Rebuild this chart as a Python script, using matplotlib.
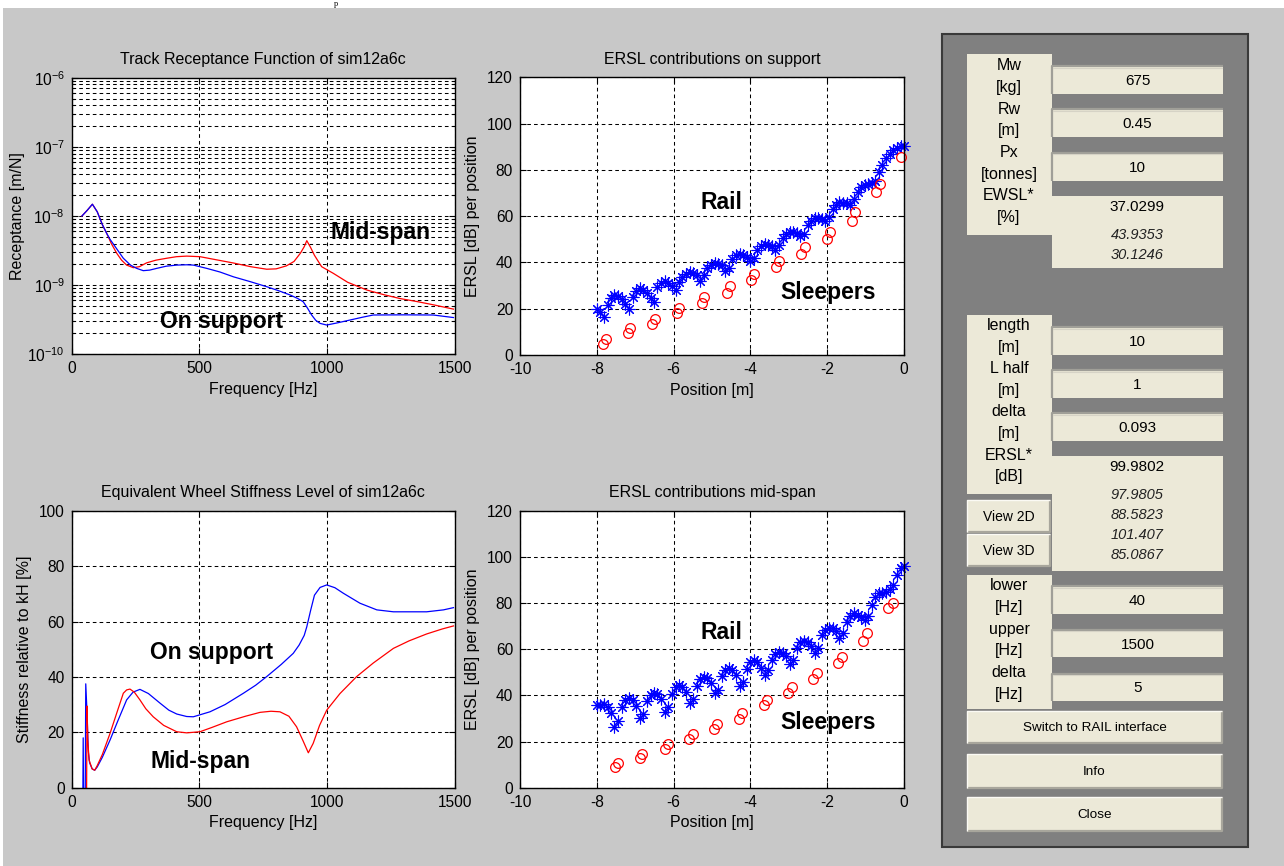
import numpy as np
import matplotlib
matplotlib.use("Agg")
import matplotlib.pyplot as plt
from matplotlib.patches import Rectangle
from matplotlib.ticker import LogLocator, NullFormatter, MultipleLocator

plt.rcParams["font.family"] = ["Liberation Sans", "DejaVu Sans"]
plt.rcParams["mathtext.default"] = "regular"
plt.rcParams["axes.unicode_minus"] = False

# ── Data: track receptance (top-left) ─────────────────────
rec_mid_f = [40, 60, 81, 100, 120, 137, 155, 176, 195, 215, 241, 265, 293, 330, 372,
             410, 450, 502, 560, 633, 700, 763, 800, 840, 870, 895, 910, 920, 935,
             950, 978, 1024, 1080, 1155, 1220, 1285, 1350, 1415, 1494]
rec_mid = [1.0e-8, 1.2e-8, 1.48e-8, 1.15e-8, 7.5e-9, 5.6e-9, 4.0e-9, 2.9e-9, 2.3e-9,
           1.95e-9, 1.79e-9, 1.85e-9, 2.1e-9, 2.3e-9, 2.45e-9, 2.58e-9, 2.63e-9,
           2.58e-9, 2.35e-9, 2.09e-9, 1.85e-9, 1.70e-9, 1.72e-9, 1.9e-9, 2.2e-9,
           2.9e-9, 3.6e-9, 4.4e-9, 3.5e-9, 2.7e-9, 1.85e-9, 1.48e-9, 1.1e-9, 8.5e-10,
           7.3e-10, 6.4e-10, 5.8e-10, 5.2e-10, 4.5e-10]
rec_sup_f = [40, 60, 81, 100, 120, 137, 150, 175, 202, 230, 254, 280, 305, 333, 370,
             411, 450, 476, 528, 580, 633, 700, 763, 810, 855, 885, 906, 922, 939,
             955, 972, 998, 1040, 1089, 1140, 1180, 1300, 1415, 1494]
rec_sup = [1.0e-8, 1.2e-8, 1.48e-8, 1.15e-8, 7.5e-9, 5.6e-9, 4.6e-9, 3.4e-9, 2.45e-9,
           1.95e-9, 1.75e-9, 1.62e-9, 1.65e-9, 1.75e-9, 1.88e-9, 1.95e-9, 1.97e-9,
           1.95e-9, 1.75e-9, 1.55e-9, 1.32e-9, 1.12e-9, 9.5e-10, 8.3e-10, 7.2e-10,
           6.4e-10, 5.75e-10, 4.7e-10, 3.7e-10, 3.1e-10, 2.8e-10, 2.65e-10, 2.85e-10,
           3.13e-10, 3.45e-10, 3.7e-10, 3.72e-10, 3.7e-10, 3.4e-10]

# ── Data: equivalent wheel stiffness level (bottom-left) ──
ews_sup_f = [40, 45, 50, 55, 60, 65, 70, 80, 90, 100, 120, 150, 180, 215, 240, 267,
             300, 346, 380, 411, 450, 476, 541, 600, 672, 720, 763, 820, 867, 890,
             910, 920, 935, 950, 972, 998, 1030, 1063, 1128, 1194, 1259, 1389, 1455,
             1494]
ews_sup = [-60, 18, -60, 37.5, 27, 13, 9, 6.8, 6.3, 7.5, 11, 17.2, 24, 31.7, 34.5,
           35.5, 34, 30.5, 28, 26.6, 25.7, 25.6, 27.4, 30, 34.1, 37, 40.1, 44.5, 48.5,
           51.5, 55, 58.1, 64, 69.5, 72.3, 73.2, 72.2, 70.2, 66.6, 64.2, 63.5, 63.5,
           64.2, 65.0]
ews_mid_f = [40, 50, 55, 60, 63, 68, 80, 90, 100, 120, 150, 180, 202, 215, 228, 245,
             267, 290, 319, 360, 411, 450, 502, 550, 607, 680, 737, 780, 815, 850,
             880, 905, 926, 945, 970, 998, 1050, 1115, 1180, 1259, 1320, 1389, 1450,
             1494]
ews_mid = [-60, -60, -60, 29.5, 17, 10, 6.8, 6.3, 8, 12, 19.6, 28, 34.1, 35.3, 35.6,
           34.5, 31.7, 28.5, 25.6, 22.5, 20.2, 19.8, 20.2, 21.8, 23.8, 25.8, 27.2,
           27.6, 27.4, 25.8, 22.0, 17, 12.6, 16, 22.5, 28.0, 34, 40.1, 45, 50.3, 53,
           55.5, 57.3, 58.4]

# ── Data: ERSL contributions ──────────────────────────────
positions = [-8.00, -7.91, -7.81, -7.72, -7.63, -7.54, -7.44, -7.35, -7.26, -7.16,
             -7.07, -6.98, -6.88, -6.79, -6.70, -6.60, -6.51, -6.42, -6.33, -6.23,
             -6.14, -6.05, -5.95, -5.86, -5.77, -5.68, -5.58, -5.49, -5.40, -5.30,
             -5.21, -5.12, -5.02, -4.93, -4.84, -4.75, -4.65, -4.56, -4.47, -4.37,
             -4.28, -4.19, -4.09, -4.00, -3.91, -3.82, -3.72, -3.63, -3.54, -3.44,
             -3.35, -3.26, -3.16, -3.07, -2.98, -2.89, -2.79, -2.70, -2.61, -2.51,
             -2.42, -2.33, -2.23, -2.14, -2.05, -1.96, -1.86, -1.77, -1.68, -1.58,
             -1.49, -1.40, -1.30, -1.21, -1.12, -1.02, -0.93, -0.84, -0.75, -0.65,
             -0.56, -0.47, -0.37, -0.28, -0.19, -0.09, 0.00]
rail_support = [20.0, 18.5, 16.5, 21.5, 24.5, 25.8, 25.5, 24.0, 22.0, 19.8,
                25.0, 27.5, 28.8, 28.3, 26.8, 24.8, 23.0, 29.5, 31.3, 31.8,
                31.0, 30.0, 28.0, 31.5, 33.8, 35.2, 36.0, 35.5, 34.5, 31.8,
                34.5, 37.5, 39.0, 39.8, 39.5, 38.8, 36.5, 37.5, 41.5, 43.0,
                43.6, 43.2, 42.5, 40.5, 42.0, 45.5, 47.2, 48.0, 47.6, 47.0,
                45.5, 47.5, 50.5, 52.5, 53.3, 53.0, 52.6, 51.5, 52.5, 56.0,
                58.0, 59.3, 59.0, 58.6, 58.0, 59.5, 63.0, 65.0, 66.0, 65.8,
                65.5, 65.0, 67.5, 70.5, 72.5, 73.5, 74.0, 74.3, 75.0, 79.0,
                82.0, 85.0, 87.0, 88.5, 89.5, 90.3, 90.5]
rail_midspan = [35.8, 36.0, 36.2, 35.0, 32.5, 26.5, 29.0, 35.0, 38.0, 38.8,
                38.0, 35.5, 30.0, 32.0, 37.5, 40.0, 41.0, 40.5, 38.5, 33.0,
                35.0, 40.5, 43.5, 44.5, 43.5, 41.5, 36.5, 38.5, 44.0, 47.0,
                48.0, 47.5, 45.5, 41.0, 42.5, 48.5, 51.0, 51.7, 51.0, 49.0,
                44.0, 46.0, 51.5, 54.5, 55.3, 54.5, 52.0, 48.8, 51.0, 55.5,
                58.0, 59.0, 58.5, 57.0, 53.5, 55.5, 60.5, 63.0, 63.7, 63.0,
                61.5, 58.5, 60.5, 66.0, 68.5, 69.3, 69.0, 68.0, 65.0, 67.0,
                72.0, 74.5, 75.6, 75.0, 74.0, 72.8, 74.5, 79.0, 82.5, 84.3,
                84.5, 84.9, 86.0, 88.0, 92.0, 95.0, 96.0]
sleep_sup_pos = [-7.85, -7.77, -7.20, -7.14, -6.55, -6.48, -5.92, -5.85, -5.27, -5.20,
                 -4.62, -4.53, -3.98, -3.91, -3.33, -3.25, -2.68, -2.58, -2.01, -1.93,
                 -1.36, -1.28, -0.73, -0.63, -0.08]
sleep_sup = [4.8, 7.0, 9.4, 11.5, 13.3, 15.6, 18.0, 20.2, 22.3, 24.9,
             26.9, 29.8, 32.4, 35.0, 38.2, 40.8, 43.6, 46.5, 50.0, 53.0,
             58.0, 61.9, 70.6, 73.8, 85.4]
sleep_mid_pos = [-7.53, -7.46, -6.88, -6.81, -6.22, -6.15, -5.59, -5.50, -4.94, -4.86,
                 -4.29, -4.21, -3.64, -3.56, -3.01, -2.92, -2.36, -2.27, -1.73, -1.62,
                 -1.06, -0.97, -0.41, -0.29]
sleep_mid = [9.1, 10.8, 12.7, 14.6, 16.6, 18.9, 21.0, 23.3, 25.3, 27.6,
             29.6, 32.2, 35.8, 38.0, 40.9, 43.8, 47.0, 49.8, 53.9, 56.8,
             63.7, 66.9, 77.7, 79.9]

# ── Data: control panel texts ─────────────────────────────
wheel_labels = ["Mw", "[kg]", "Rw", "[m]", "Px", "[tonnes]", "EWSL*", "[%]"]
wheel_values = ["675", "0.45", "10"]
ewsl_value = "37.0299"
ewsl_extra = ["43.9353", "30.1246"]
track_labels = ["length", "[m]", "L half", "[m]", "delta", "[m]", "ERSL*", "[dB]"]
track_values = ["10", "1", "0.093"]
ersl_value = "99.9802"
ersl_extra = ["97.9805", "88.5823", "101.407", "85.0867"]
view_buttons = ["View 2D", "View 3D"]
freq_labels = ["lower", "[Hz]", "upper", "[Hz]", "delta", "[Hz]"]
freq_values = ["40", "1500", "5"]
buttons = ["Switch to RAIL interface", "Info", "Close"]

# ── Figure & background ───────────────────────────────────
W, H = 1284, 866
BG = "#c8c8c8"
PANEL = "#808080"
BEIGE = "#ece9d8"

fig = plt.figure(figsize=(W / 100, H / 100), dpi=100)
fig.patch.set_facecolor("white")

ui = fig.add_axes([0, 0, 1, 1])
ui.set_xlim(0, W)
ui.set_ylim(H, 0)
ui.axis("off")
ui.add_patch(Rectangle((3, 8), W - 3, H - 8, facecolor=BG, edgecolor="none"))
# fragment of the page text above the screenshot
fig.text(334 / W, 1 - 0.5 / H, "p", family="Liberation Serif", fontsize=6,
         va="top", ha="left", color="black")

# control panel
ui.add_patch(Rectangle((942, 34), 306, 813, facecolor=PANEL,
                       edgecolor="#3a3a3a", linewidth=1.5))


def beige(x0, y0, x1, y1):
    ui.add_patch(Rectangle((x0, y0), x1 - x0, y1 - y0, facecolor=BEIGE,
                           edgecolor="none"))


def edit_box(x0, y0, x1, y1, text):
    beige(x0, y0, x1, y1)
    ui.plot([x0, x0, x1], [y1, y0, y0], color="#a09f98", lw=1.6, solid_capstyle="butt")
    ui.plot([x0 + 1, x1 - 1], [y0 + 1.5, y0 + 1.5], color="#d6d3c6", lw=0.8)
    ui.text((x0 + x1) / 2, (y0 + y1) / 2 + 1, text, ha="center", va="center",
            fontsize=11)


def button(x0, y0, x1, y1, text, size=9.7):
    beige(x0, y0, x1, y1)
    ui.plot([x0, x1, x1], [y1, y1, y0], color="#a8a69c", lw=1.6, solid_capstyle="butt")
    ui.plot([x0, x0, x1], [y1, y0, y0], color="#fbfaf4", lw=1.0, solid_capstyle="butt")
    ui.text((x0 + x1) / 2, (y0 + y1) / 2 + 1, text, ha="center", va="center",
            fontsize=size)


def label_stack(y_first, labels):
    for i, s in enumerate(labels):
        ui.text(1009, y_first + i * 21.6, s, ha="center", va="center", fontsize=11.5)


# group 1: wheel
beige(967, 54, 1052, 235)
beige(1052, 196, 1223, 268)
label_stack(66, wheel_labels)
for i, v in enumerate(wheel_values):
    edit_box(1052, 66 + i * 43.3, 1223, 94 + i * 43.3, v)
ui.text(1137, 207, ewsl_value, ha="center", va="center", fontsize=11)
for i, v in enumerate(ewsl_extra):
    ui.text(1137, 235 + i * 20, v, ha="center", va="center", fontsize=10.5,
            style="italic", color="#222222")

# group 2: track
beige(967, 315, 1052, 494)
beige(1052, 456, 1223, 571)
label_stack(325.5, track_labels)
for i, v in enumerate(track_values):
    edit_box(1052, 327 + i * 43, 1223, 355 + i * 43, v)
ui.text(1137, 467, ersl_value, ha="center", va="center", fontsize=11)
for i, v in enumerate(ersl_extra):
    ui.text(1137, 495 + i * 20, v, ha="center", va="center", fontsize=10.5,
            style="italic", color="#222222")
for i, v in enumerate(view_buttons):
    button(967, 500 + i * 34.3, 1050, 531.5 + i * 34.3, v, size=10)

# group 3: frequency
beige(967, 575, 1052, 709)
label_stack(586, freq_labels)
for i, v in enumerate(freq_values):
    edit_box(1052, 586 + i * 43.8, 1223, 613.5 + i * 43.8, v)
for i, v in enumerate(buttons):
    button(967, 711 + i * 43, 1222, 743 + i * 43 + (2 if i else 0), v)


# ── Plot axes ─────────────────────────────────────────────
def px_axes(l, t, r, b):
    return fig.add_axes([l / W, 1 - b / H, (r - l) / W, (b - t) / H])


def style(ax, which="major"):
    ax.set_facecolor("white")
    ax.tick_params(which="both", direction="in", top=True, right=True,
                   width=0.8, labelsize=11.2, pad=5)
    ax.tick_params(which="major", length=4.5)
    ax.tick_params(which="minor", length=2.5)
    for s in ax.spines.values():
        s.set_linewidth(1.0)
    ax.grid(True, which=which, color="black", linestyle=(0, (3.5, 3)), linewidth=0.75)


TITLE = dict(fontsize=11.5, pad=9.8)
LAB = dict(fontsize=11.5)
ANN = dict(fontsize=16.5, fontweight="bold", ha="left", va="center")

# top-left: receptance
ax1 = px_axes(71.7, 77.7, 455, 354.3)
ax1.set_yscale("log")
ax1.plot(rec_mid_f, rec_mid, color="red", lw=0.9)
ax1.plot(rec_sup_f, rec_sup, color="blue", lw=0.9)
ax1.set_xlim(0, 1500)
ax1.set_ylim(1e-10, 1e-6)
ax1.xaxis.set_major_locator(MultipleLocator(500))
ax1.yaxis.set_major_locator(LogLocator(base=10, numticks=10))
ax1.yaxis.set_minor_locator(LogLocator(base=10, subs=np.arange(2, 10), numticks=10))
ax1.yaxis.set_minor_formatter(NullFormatter())
style(ax1, which="both")
ax1.set_title("Track Receptance Function of sim12a6c", **TITLE)
ax1.set_xlabel("Frequency [Hz]", **LAB)
ax1.set_ylabel("Receptance [m/N]", **LAB)
ax1.xaxis.set_label_coords(0.5, -0.100)
ax1.yaxis.set_label_coords(-0.122, 0.5)
ax1.text(1011, 5.7e-9, "Mid-span", **ANN)
ax1.text(346, 2.96e-10, "On support", **ANN)

# bottom-left: EWSL
ax3 = px_axes(71.7, 510.7, 455, 787.7)
ax3.plot(ews_sup_f, ews_sup, color="blue", lw=0.9)
ax3.plot(ews_mid_f, ews_mid, color="red", lw=0.9)
ax3.set_xlim(0, 1500)
ax3.set_ylim(0, 100)
ax3.xaxis.set_major_locator(MultipleLocator(500))
ax3.yaxis.set_major_locator(MultipleLocator(20))
style(ax3)
ax3.set_title("Equivalent Wheel Stiffness Level of sim12a6c", **TITLE)
ax3.set_xlabel("Frequency [Hz]", **LAB)
ax3.set_ylabel("Stiffness relative to kH [%]", **LAB)
ax3.xaxis.set_label_coords(0.5, -0.100)
ax3.yaxis.set_label_coords(-0.104, 0.5)
ax3.text(307, 48.7, "On support", **ANN)
ax3.text(307, 9.4, "Mid-span", **ANN)


def ersl_axes(ax, rail, sl_pos, sl_val, title, rail_y, sleep_y):
    ax.plot(positions, rail, ls="none", marker=(8, 2, 0), ms=8.5, mew=0.8,
            color="blue", clip_on=False)
    ax.plot(sl_pos, sl_val, ls="none", marker="o", ms=7, mfc="none", mew=0.9,
            mec="red", clip_on=False)
    ax.set_xlim(-10, 0)
    ax.set_ylim(0, 120)
    ax.xaxis.set_major_locator(MultipleLocator(2))
    ax.yaxis.set_major_locator(MultipleLocator(20))
    style(ax)
    ax.set_title(title, **TITLE)
    ax.set_xlabel("Position [m]", **LAB)
    ax.set_ylabel("ERSL [dB] per position", **LAB)
    ax.xaxis.set_label_coords(0.5, -0.100)
    ax.yaxis.set_label_coords(-0.104, 0.5)
    ax.text(-5.31, rail_y, "Rail", **ANN)
    ax.text(-3.23, sleep_y, "Sleepers", **ANN)


ax2 = px_axes(520, 77.3, 904, 355)
ersl_axes(ax2, rail_support, sleep_sup_pos, sleep_sup,
          "ERSL contributions on support", 66.0, 27.1)
ax4 = px_axes(520, 510.7, 904, 787.7)
ersl_axes(ax4, rail_midspan, sleep_mid_pos, sleep_mid,
          "ERSL contributions mid-span", 67.3, 28.3)

plt.savefig("out.png", dpi=100, facecolor=fig.get_facecolor())
